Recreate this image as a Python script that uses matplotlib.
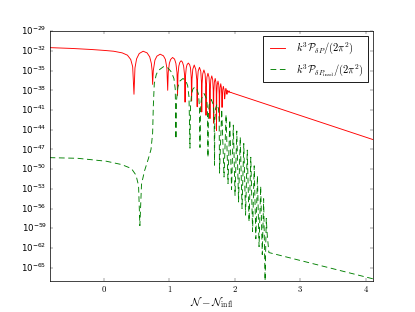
import numpy as np
import matplotlib
matplotlib.use("Agg")
import matplotlib.pyplot as plt
from matplotlib.ticker import FuncFormatter, NullLocator

plt.style.use('classic')
plt.rcParams['mathtext.fontset'] = 'cm'

# ---- data (x = N - N_infl, y = log10 of the spectrum) ----
red_N = [-0.83, -0.50, -0.20, 0.00, 0.15, 0.28, 0.36, 0.41, 0.44, 0.46,
         0.475, 0.50, 0.54, 0.60, 0.66, 0.70, 0.725, 0.737, 0.745,
         0.755, 0.78, 0.81, 0.86, 0.91, 0.94, 0.962, 0.975,
         0.983, 1.00, 1.02, 1.05, 1.08, 1.10, 1.117, 1.125,
         1.132, 1.145, 1.16, 1.18, 1.20, 1.218, 1.233, 1.24,
         1.246, 1.258, 1.27, 1.29, 1.31, 1.323, 1.334, 1.34,
         1.346, 1.358, 1.38, 1.403, 1.419, 1.425,
         1.43, 1.44, 1.46, 1.48, 1.49, 1.495,
         1.50, 1.51, 1.528, 1.546, 1.555, 1.56,
         1.565, 1.574, 1.59, 1.606, 1.615, 1.62,
         1.625, 1.633, 1.648, 1.662, 1.67, 1.675,
         1.679, 1.687, 1.70, 1.712, 1.716, 1.72,
         1.724, 1.731, 1.743, 1.755, 1.761, 1.765,
         1.769, 1.775, 1.785, 1.795, 1.801, 1.805,
         1.809, 1.815, 1.825, 1.835, 1.841, 1.845,
         1.849, 1.855, 1.863, 1.872, 1.877, 1.88,
         1.89, 1.905, 1.915, 1.925, 1.94, 1.96, 4.11]
red_logP = [-31.50, -31.62, -31.78, -31.92, -32.05, -32.30, -32.65, -33.30, -34.40, -38.60,
            -34.6, -33.2, -32.4, -32.05, -32.3, -32.9, -33.9, -35.0, -37.1,
            -35.0, -33.4, -32.8, -32.5, -32.75, -33.3, -34.6, -38.0,
            -35.3, -33.9, -33.3, -33.0, -33.25, -33.9, -35.3, -38.8,
            -35.6, -34.3, -33.75, -33.5, -33.7, -34.3, -35.7, -39.8,
            -35.9, -34.6, -34.1, -33.85, -34.1, -34.6, -36.0, -39.6,
            -36.3, -34.8, -34.15, -34.8, -36.4, -40.5,
            -36.6, -35.1, -34.5, -35.1, -36.7, -41.3,
            -37.0, -35.5, -34.9, -35.5, -37.1, -41.8,
            -37.5, -36.0, -35.4, -36.0, -37.6, -42.3,
            -37.9, -36.4, -35.8, -36.4, -38.0, -43.0,
            -38.2, -36.8, -36.2, -36.8, -38.3, -44.1,
            -38.6, -37.2, -36.6, -37.2, -38.7, -42.6,
            -38.9, -37.6, -37.0, -37.6, -39.0, -40.6,
            -39.0, -37.9, -37.4, -37.9, -38.9, -39.3,
            -38.9, -38.1, -37.7, -38.0, -38.5, -38.6,
            -38.0, -38.3, -38.1, -38.35, -38.3, -38.4, -45.5]

green_N = [-0.83, -0.40, 0.04, 0.27, 0.42, 0.49, 0.53, 0.55, 0.575, 0.62, 0.68, 0.72,
           0.745, 0.755, 0.77, 0.80, 0.83, 0.91, 0.98, 1.03, 1.07, 1.09, 1.101,
           1.11, 1.13, 1.16, 1.208, 1.25, 1.28, 1.30, 1.315,
           1.323, 1.34, 1.36, 1.39, 1.42, 1.445, 1.46, 1.468,
           1.475, 1.49, 1.53, 1.57, 1.583, 1.59,
           1.596, 1.608, 1.64, 1.672, 1.684, 1.69,
           1.695, 1.705, 1.728, 1.751, 1.761, 1.766,
           1.80, 1.835, 1.866, 1.896, 1.923, 1.95, 1.977, 2.003,
           2.03, 2.057, 2.083, 2.11, 2.137, 2.164, 2.19, 2.217,
           2.244, 2.271, 2.296, 2.321, 2.345, 2.37, 2.395, 2.419,
           2.44, 2.462, 2.48, 2.495, 2.52, 4.11]
green_logP = [-48.25, -48.35, -48.8, -49.3, -49.9, -50.9, -52.5, -58.6, -52.3, -50.3, -48.4, -47.0,
              -44.5, -40.5, -37.0, -35.6, -35.0, -34.4, -34.6, -35.2, -36.2, -37.8, -45.4,
              -39.5, -37.5, -36.6, -36.2, -36.5, -37.3, -39.0, -46.8,
              -40.5, -38.5, -37.8, -37.5, -37.8, -38.6, -40.5, -46.7,
              -41.0, -39.3, -38.5, -39.3, -41.0, -48.2,
              -41.8, -40.2, -39.4, -40.2, -41.8, -49.4,
              -42.5, -40.8, -40.1, -40.8, -42.5, -50.6,
              -40.9, -51.2, -41.7, -52.2, -42.5, -53.1, -43.3, -54.0,
              -44.2, -55.0, -45.1, -56.0, -46.1, -57.0, -47.1, -58.0,
              -48.2, -59.5, -49.5, -60.6, -51.0, -61.8, -52.6, -63.0,
              -54.5, -67.0, -57.5, -60.0, -62.7, -66.7]

xticks = [0, 1, 2, 3, 4]
ytick_exps = list(range(-65, -28, 3))
label_red = r'$k^3\mathcal{P}_{\delta P}/(2\pi^2)$'
label_green = r'$k^3\mathcal{P}_{\delta P_{\rm insd}}/(2\pi^2)$'

fig = plt.figure(figsize=(415 / 52, 312 / 52), dpi=52, facecolor='white')
ax = fig.add_axes([49.5 / 415, 0.1, (373 - 49.5) / 415, 0.8])

ax.semilogy(red_N, 10.0 ** np.array(red_logP), '-', color='red', lw=1.25, label=label_red)
ax.semilogy(green_N, 10.0 ** np.array(green_logP), '--', color='green', lw=1.25,
            dashes=(8, 5), label=label_green)

ax.set_xlim(-0.83, 4.11)
ax.set_ylim(1e-67, 1e-29)
ax.set_xticks(xticks)
ax.xaxis.set_major_formatter(FuncFormatter(lambda v, p: r'$%g$' % v))
ax.set_yticks([10.0 ** e for e in ytick_exps])
ax.yaxis.set_minor_locator(NullLocator())
ax.tick_params(labelsize=12)
ax.set_xlabel(r'$\mathcal{N} - \mathcal{N}_{\rm infl}$', fontsize=15, labelpad=2)
leg = ax.legend(loc='upper right', fontsize=14.4, handlelength=2.0)
leg.get_frame().set_linewidth(1.2)

fig.savefig('out.png', dpi=52, facecolor='white')
